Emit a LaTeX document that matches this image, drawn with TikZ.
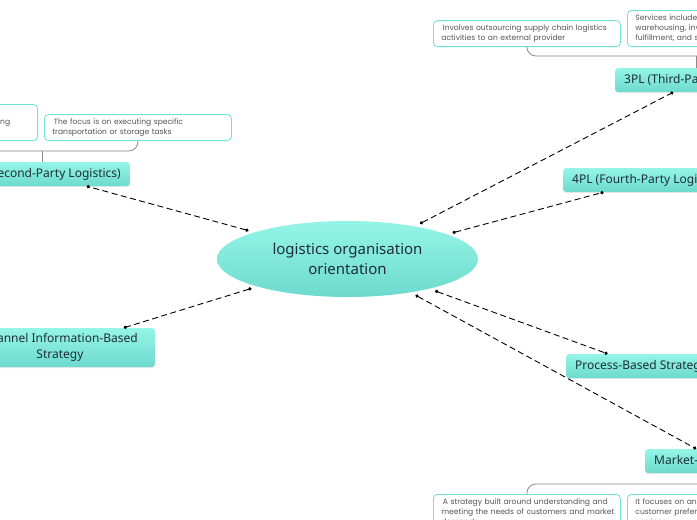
\documentclass[tikz,border=0pt]{standalone}
\usepackage{fontspec}
\setmainfont{Noto Sans}
\newfontfamily\notefont{Poppins}
\usetikzlibrary{arrows.meta,shapes.geometric,shadows,calc}
\definecolor{tealtop}{HTML}{95F5E7}
\definecolor{tealbot}{HTML}{6DDACD}
\definecolor{notebord}{HTML}{6FE3D4}
\definecolor{darktext}{HTML}{1E2D3B}
\definecolor{notetext}{HTML}{555555}
\definecolor{bracecol}{HTML}{8A8A8A}
\hyphenpenalty=10000
\exhyphenpenalty=10000
\hbadness=10000
\hfuzz=30pt
\begin{document}
\begin{tikzpicture}[x=1pt,y=-1pt,
 topic/.style={rectangle, rounded corners=3pt, top color=tealtop, bottom color=tealbot, text=darktext,
   font=\fontsize{12}{16}\selectfont, inner xsep=9pt, inner ysep=4pt, minimum height=24pt, align=center,
   drop shadow={opacity=0.15, shadow xshift=0pt, shadow yshift=-1.2pt}},
 note/.style={rectangle, draw=notebord, line width=0.8pt, rounded corners=4pt, fill=white, text=notetext,
   font=\notefont\fontsize{7.6}{10}\selectfont,
   align=left, text width=171pt, inner xsep=8pt, inner ysep=4.1pt},
 link/.style={dash pattern=on 6pt off 3.5pt, line width=0.9pt, {Circle[length=3.3pt]}-{Circle[length=3.3pt]}},
 brace/.style={draw=bracecol, line width=0.8pt, rounded corners=9pt}]
\useasboundingbox (0,0) rectangle (697,520);
\fill[white] (0,0) rectangle (697,520);

% central topic
\node[ellipse, minimum width=261pt, minimum height=76pt, inner sep=0pt, outer sep=4pt,
  top color=tealtop, bottom color=tealbot, text=darktext, align=center,
  font=\fontsize{15}{20.5}\selectfont] (ctr) at (347.5,259) {logistics organisation\\orientation};

% main topics
\node[topic, anchor=west] (tpl) at (615,80) {3PL (Third-Party Logistics)};
\node[topic, anchor=west] (fpl) at (563,180) {4PL (Fourth-Party Logistics)};
\node[topic, anchor=east] (spl) at (130,174) {2PL (Second-Party Logistics)};
\node[topic, anchor=east, minimum height=39pt, inner xsep=17pt] (chan) at (155,347.5) {Channel Information-Based\\Strategy};
\node[topic, anchor=west] (proc) at (566,366) {Process-Based Strategy};
\node[topic, anchor=west] (mkt) at (645,461) {Market-Based Strategy};

% notes
\node[note, anchor=south west] (n3a) at (433,47) {\mbox{\hspace{1.5pt}Involves outsourcing supply chain logistics}\\activities to an external provider};
\node[note, anchor=south west] (n3b) at (627,47) {Services include transportation,\\warehousing, inventory management,\\fulfillment, and shipping};
\node[note, anchor=south east] (n2a) at (38,141) {A 2PL owns its assets, such as\\\mbox{trucks and warehouses for transporting}\\and storing goods};
\node[note, anchor=south west] (n2b) at (44,141) {\hspace{1.5pt}The focus is on executing specific\\transportation or storage tasks};
\node[note, anchor=north west] (nma) at (433,494) {\mbox{\hspace{1.5pt}A strategy built around understanding and}\\\mbox{meeting the needs of customers and market}\\demands};
\node[note, anchor=north west] (nmb) at (627,494) {\mbox{It focuses on analysing market trends and}\\customer preferences to tailor logistics\\services};

% braces
\coordinate (b3) at ($(n3a.south)+(0,9)$);
\coordinate (b2) at ($(n2b.south)+(0,10)$);
\coordinate (bm) at ($(nma.north)+(0,-10)$);
\draw[brace] (n3a.south) -- (b3) -| (n3b.south);
\draw[brace] (tpl.north) -- (tpl.north |- b3);
\draw[brace] (n2b.south) -- (b2) -| (n2a.south);
\draw[brace] (spl.north) -- (spl.north |- b2);
\draw[brace] (nma.north) -- (bm) -| (nmb.north);
\draw[brace] (mkt.south) -- (mkt.south |- bm);

% connectors
\draw[link] (ctr.26.9) -- (tpl);
\draw[link] (ctr.14.6) -- (fpl);
\draw[link] (ctr.164.4) -- (spl);
\draw[link] (ctr.197.9) -- (chan);
\draw[link] (ctr.-20.9) -- (proc);
\draw[link] (ctr.-28.8) -- (mkt);
\end{tikzpicture}
\end{document}
